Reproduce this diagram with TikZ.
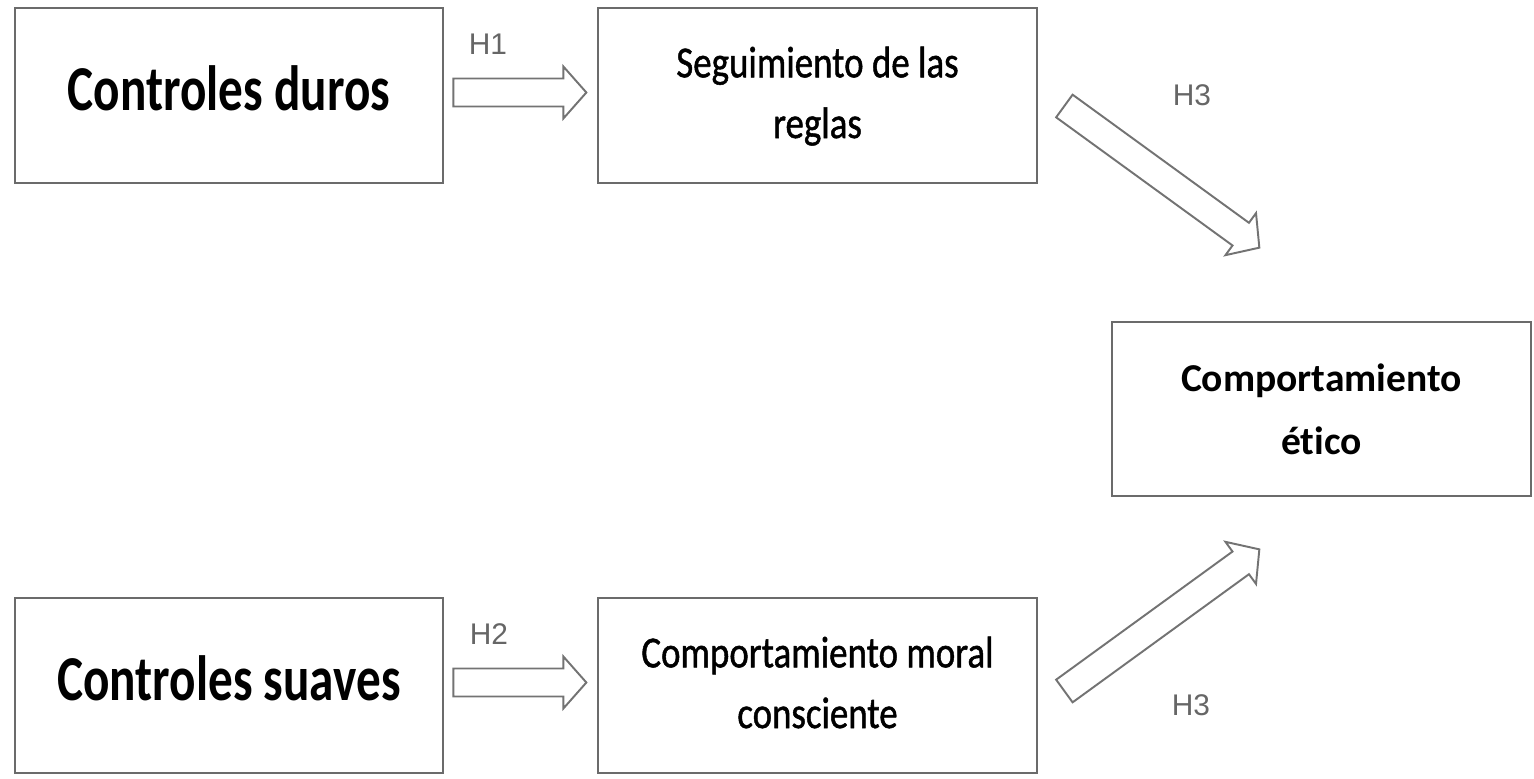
\documentclass[tikz,border=0pt]{standalone}
\usepackage{fontspec}
\usepackage{graphicx}
\setmainfont{Carlito}[Ligatures=NoCommon]
\newfontfamily\midfont{Carlito}[Ligatures=NoCommon, FakeBold=1.2]
\newfontfamily\hypfont{Liberation Sans}
\usetikzlibrary{calc}

\tikzset{
  box/.style={draw=black!58, line width=1.6pt, rectangle, align=center, inner sep=0pt},
  bigbox/.style={box, minimum width=8.56cm, minimum height=3.5cm,
    font=\bfseries\fontsize{28}{34}\selectfont},
  midbox/.style={box, minimum width=8.78cm, minimum height=3.5cm,
    font=\midfont\fontsize{21}{28.8}\selectfont},
  endbox/.style={box, minimum width=8.38cm, minimum height=3.48cm,
    font=\bfseries\fontsize{22.5}{36}\selectfont},
  hyp/.style={text=black!60, font=\hypfont\fontsize{17}{20}\selectfont},
  arrowline/.style={draw=black!55, line width=1.1pt, line join=miter, fill=white},
  pics/hollowarrow/.style={code={
    \draw[arrowline] (0,-14) -- (#1-23,-14) -- (#1-23,-26) -- (#1,0)
      -- (#1-23,26) -- (#1-23,14) -- (0,14) -- cycle;
  }}
}

\begin{document}
\begin{tikzpicture}[x=0.02cm, y=-0.02cm]
\useasboundingbox (0,0) rectangle (1534,778);

% boxes
\node[bigbox] (duros) at (229,95.5)
  {\raisebox{4pt}[\height][\depth]{\scalebox{1}[1.3]{Controles duros}}};
\node[midbox] (reglas) at (817.5,95.5)
  {\scalebox{1}[1.2]{\begin{tabular}{@{}c@{}}Seguimiento de las\\reglas\end{tabular}}};
\node[endbox] (etico) at (1321.5,409) {Comportamiento\\ético};
\node[bigbox] (suaves) at (229,685.5)
  {\raisebox{4pt}[\height][\depth]{\scalebox{1}[1.3]{Controles suaves}}};
\node[midbox] (moral) at (817.5,685.5)
  {\scalebox{1}[1.2]{\begin{tabular}{@{}c@{}}Comportamiento moral\\consciente\end{tabular}}};

% hollow arrows
\pic at ($(duros.east)+(9,-3)$) {hollowarrow=133};
\pic at ($(suaves.east)+(9,-3)$) {hollowarrow=133};
\pic[rotate=-36] at ($(reglas.east)+(26,10.5)$) {hollowarrow=241};
\pic[rotate=36] at ($(moral.east)+(26,5.5)$) {hollowarrow=241};

% hypothesis labels
\node[hyp] (h1) at (488,44) {H1};
\node[hyp] (h2) at (489,634) {H2};
\node[hyp] (h3a) at (1192,95) {H3};
\node[hyp] (h3b) at (1191,705) {H3};
\end{tikzpicture}
\end{document}
